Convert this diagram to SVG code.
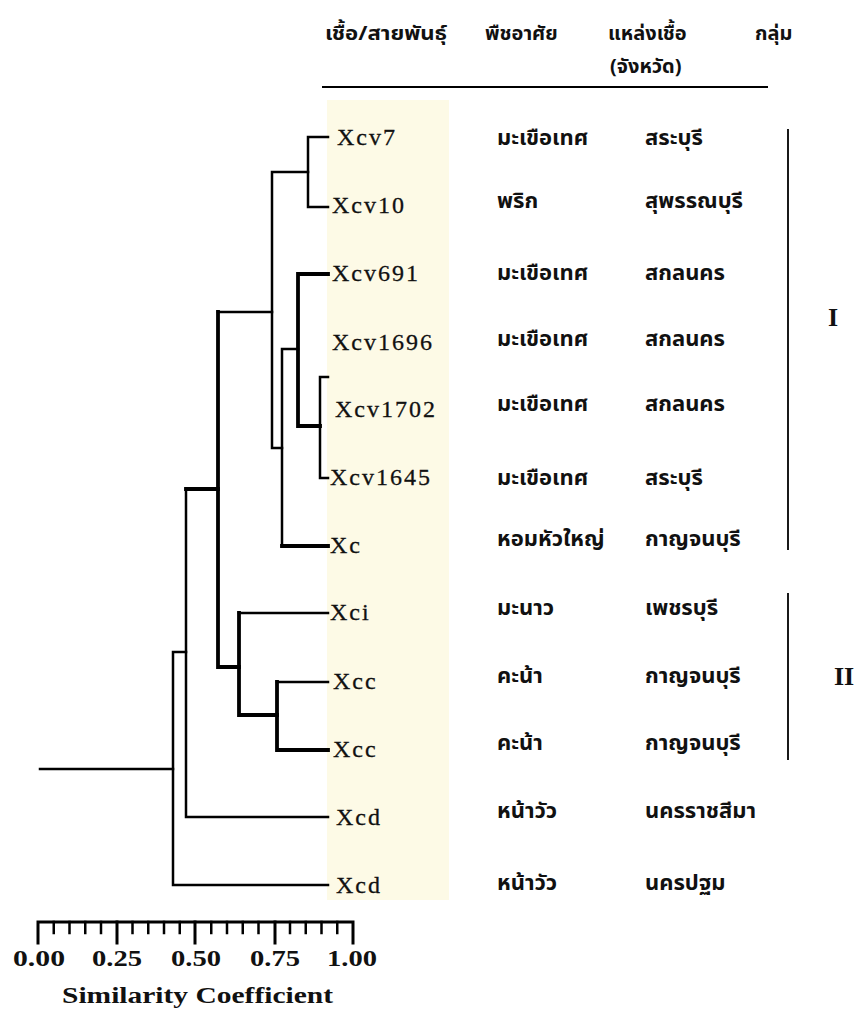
<svg xmlns="http://www.w3.org/2000/svg" width="860" height="1015" viewBox="0 0 860 1015">
<style>
.ln{fill:none;stroke:#000;stroke-linejoin:miter;stroke-linecap:square}
.n{stroke-width:2.5}
.t{stroke-width:3.8}
.leaf{font-family:"Liberation Serif","Times New Roman",serif;font-size:24px;letter-spacing:2px;fill:#111;stroke:#111;stroke-width:0.3}
.th{font-family:"Noto Sans Thai","Noto Sans","DejaVu Sans",sans-serif;font-size:22px;font-weight:bold;fill:#111}
.hd{font-family:"Noto Sans Thai","Noto Sans","DejaVu Sans",sans-serif;font-size:20px;font-weight:bold;fill:#111}
.sc{font-family:"Liberation Serif","Times New Roman",serif;font-weight:bold;font-size:23px;fill:#111}
.grp{font-family:"Liberation Serif","Times New Roman",serif;font-weight:bold;font-size:26px;fill:#111;text-anchor:middle}
</style>
<rect width="860" height="1015" fill="#fff"/>
<rect id="band" x="327" y="100" width="122" height="800" fill="#fdfae6"/>

<g id="header">
<text class="hd" x="325" y="40" textLength="122" lengthAdjust="spacingAndGlyphs">เชื้อ/สายพันธุ์</text>
<text class="hd" x="485" y="40">พืชอาศัย</text>
<text class="hd" x="608" y="40">แหล่งเชื้อ</text>
<text class="hd" x="610" y="73">(จังหวัด)</text>
<text class="hd" x="755" y="40">กลุ่ม</text>
<line x1="322" y1="87" x2="768" y2="87" stroke="#000" stroke-width="2"/>
</g>

<g id="connectors">
<path class="ln n" d="M328,137 H308 V207 H328"/>
<path class="ln n" d="M308,172 H272 V448 H282"/>
<path class="ln t" d="M328,274 H298 V426 H320"/>
<path class="ln n" d="M328,377 H320 V478 H328"/>
<path class="ln n" d="M298,349 H282 V546"/>
<path class="ln t" d="M282,546 H328"/>
<path class="ln n" d="M272,312 H218"/>
<path class="ln t" d="M218,312 V667 H239"/>
<path class="ln n" d="M328,613 H239"/>
<path class="ln t" d="M239,613 V715 H277"/>
<path class="ln n" d="M328,682 H277"/>
<path class="ln t" d="M277,682 V750 H328"/>
<path class="ln t" d="M218,489 H186"/>
<path class="ln n" d="M186,489 V817 H328"/>
<path class="ln n" d="M186,652 H173 V885 H328"/>
<path class="ln n" d="M40,769 H173" stroke-width="2"/>
</g>

<g id="leaf-Xcv7"><text class="leaf" x="337" y="145">Xcv7</text><text class="th" x="497" y="145">มะเขือเทศ</text><text class="th" x="645" y="145">สระบุรี</text></g>
<g id="leaf-Xcv10"><text class="leaf" x="332" y="213">Xcv10</text><text class="th" x="497" y="208">พริก</text><text class="th" x="645" y="208">สุพรรณบุรี</text></g>
<g id="leaf-Xcv691"><text class="leaf" x="332" y="281">Xcv691</text><text class="th" x="497" y="280">มะเขือเทศ</text><text class="th" x="645" y="280">สกลนคร</text></g>
<g id="leaf-Xcv1696"><text class="leaf" x="332" y="350">Xcv1696</text><text class="th" x="497" y="346">มะเขือเทศ</text><text class="th" x="645" y="346">สกลนคร</text></g>
<g id="leaf-Xcv1702"><text class="leaf" x="335" y="417">Xcv1702</text><text class="th" x="497" y="411">มะเขือเทศ</text><text class="th" x="645" y="411">สกลนคร</text></g>
<g id="leaf-Xcv1645"><text class="leaf" x="330" y="485">Xcv1645</text><text class="th" x="497" y="485">มะเขือเทศ</text><text class="th" x="645" y="485">สระบุรี</text></g>
<g id="leaf-Xc"><text class="leaf" x="330" y="553">Xc</text><text class="th" x="497" y="546">หอมหัวใหญ่</text><text class="th" x="645" y="546">กาญจนบุรี</text></g>
<g id="leaf-Xci"><text class="leaf" x="330" y="620">Xci</text><text class="th" x="497" y="615">มะนาว</text><text class="th" x="645" y="615">เพชรบุรี</text></g>
<g id="leaf-Xcc1"><text class="leaf" x="333" y="689">Xcc</text><text class="th" x="497" y="683">คะน้า</text><text class="th" x="645" y="683">กาญจนบุรี</text></g>
<g id="leaf-Xcc2"><text class="leaf" x="333" y="757">Xcc</text><text class="th" x="497" y="750">คะน้า</text><text class="th" x="645" y="750">กาญจนบุรี</text></g>
<g id="leaf-Xcd1"><text class="leaf" x="336" y="825">Xcd</text><text class="th" x="497" y="818">หน้าวัว</text><text class="th" x="645" y="818">นครราชสีมา</text></g>
<g id="leaf-Xcd2"><text class="leaf" x="336" y="893">Xcd</text><text class="th" x="497" y="890">หน้าวัว</text><text class="th" x="645" y="890">นครปฐม</text></g>

<g id="group-I">
<line x1="788" y1="129" x2="788" y2="550" stroke="#000" stroke-width="1.8"/>
<text class="grp" x="833" y="326">I</text>
</g>
<g id="group-II">
<line x1="788" y1="593" x2="788" y2="760" stroke="#000" stroke-width="1.8"/>
<text class="grp" x="844" y="685">II</text>
</g>

<g id="scale">
<path class="ln" stroke-width="3" d="M38,943 V922 H353 V943"/>
<path class="ln" stroke-width="3" d="M117,922 V943 M195,922 V943 M275,922 V943"/>
<path class="ln" stroke-width="2.5" d="M53.75,922 V933 M69.5,922 V933 M85.25,922 V933 M101,922 V933 M132.5,922 V933 M148.25,922 V933 M164,922 V933 M179.75,922 V933 M211.25,922 V933 M227,922 V933 M242.75,922 V933 M258.5,922 V933 M290,922 V933 M305.75,922 V933 M321.5,922 V933 M337.25,922 V933"/>
<text class="sc" x="13" y="966" textLength="52" lengthAdjust="spacingAndGlyphs">0.00</text>
<text class="sc" x="92" y="966" textLength="50" lengthAdjust="spacingAndGlyphs">0.25</text>
<text class="sc" x="171" y="966" textLength="50" lengthAdjust="spacingAndGlyphs">0.50</text>
<text class="sc" x="250" y="966" textLength="50" lengthAdjust="spacingAndGlyphs">0.75</text>
<text class="sc" x="327" y="966" textLength="50" lengthAdjust="spacingAndGlyphs">1.00</text>
<text class="sc" x="62" y="1003" textLength="271" lengthAdjust="spacingAndGlyphs">Similarity Coefficient</text>
</g>
</svg>
